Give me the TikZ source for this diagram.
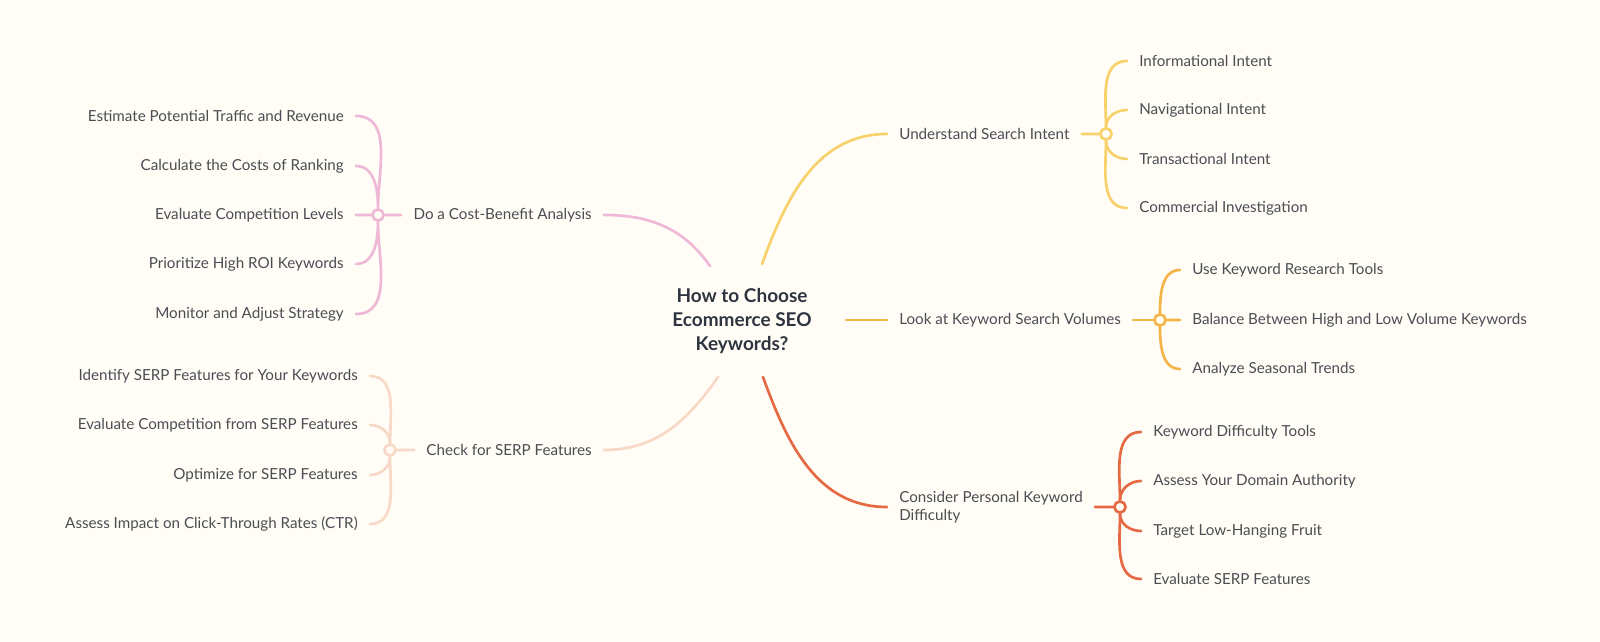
\documentclass[tikz,border=0pt]{standalone}
\usepackage{fontspec}
\setmainfont{Lato}
\usetikzlibrary{positioning}
\definecolor{bgc}{HTML}{FFFDF6}
\definecolor{ylw}{HTML}{F8D16A}
\definecolor{org}{HTML}{F5B447}
\definecolor{rdo}{HTML}{E56A43}
\definecolor{pnk}{HTML}{EEB8D6}
\definecolor{pch}{HTML}{F8D8C6}
\definecolor{txc}{HTML}{4A4D52}
\definecolor{ttc}{HTML}{2E3540}
\pgfdeclarelayer{back}
\pgfdeclarelayer{bg}
\pgfsetlayers{back,bg,main}
\tikzset{%
    lin/.style={line width=1.9pt, line cap=round},
    hub/.style={circle, draw, fill=bgc, line width=1.9pt, minimum size=0.28cm, inner sep=0pt},
    txt/.style={font=\fontsize{10.8}{13}\selectfont, text=txc, inner xsep=0.3cm, inner ysep=1pt},
    ttl/.style={font=\fontsize{13.5}{17}\selectfont\bfseries, text=ttc, align=center}
}
\begin{document}
\begin{tikzpicture}[x=0.025cm, y=-0.025cm]
    \begin{pgfonlayer}{back}
    \fill[bgc] (0,0) rectangle (1600,642);
    \end{pgfonlayer}
    \useasboundingbox (0,0) rectangle (1600,642);
    \node[ttl] (c) at (742,321) {How to Choose\\Ecommerce SEO\\Keywords?};
    \coordinate (cy) at (762,264);
    \coordinate (co) at (846,320);
    \coordinate (cr) at (763,377);
    \coordinate (cp) at (710,266);
    \coordinate (cs) at (718,377);
    % branches
    \node[txt, anchor=west] (b1) at (887,134) {Understand Search Intent};
    \node[txt, anchor=west] (b2) at (887,320) {Look at Keyword Search Volumes};
    \node[txt, anchor=west, align=left] (b3) at (887,507) {Consider Personal Keyword\\Difficulty};
    \node[txt, anchor=east] (b4) at (604,215) {Do a Cost-Benefit Analysis};
    \node[txt, anchor=east] (b5) at (604,450) {Check for SERP Features};
    \node[hub, draw=ylw] (h1) at (1106,134) {};
    \node[hub, draw=org] (h2) at (1160,320) {};
    \node[hub, draw=rdo] (h3) at (1120,507) {};
    \node[hub, draw=pnk] (h4) at (378,215) {};
    \node[hub, draw=pch] (h5) at (390,450) {};
    \begin{pgfonlayer}{bg}
    \draw[lin, ylw] (cy) to[out=70, in=180] (b1.west) (b1.east) -- (h1);
    \draw[lin, org] (co) -- (b2.west) (b2.east) -- (h2);
    \draw[lin, rdo] (cr) to[out=-70, in=180] (b3.west) (b3.east) -- (h3);
    \draw[lin, pnk] (cp) to[out=125, in=0] (b4.east) (b4.west) -- (h4);
    \draw[lin, pch] (cs) to[out=-125, in=0] (b5.east) (b5.west) -- (h5);
    % children right
    \foreach \t/\y [count=\i] in {Informational Intent/61, Navigational Intent/110, Transactional Intent/159, Commercial Investigation/208}{
        \node[txt, anchor=west] (u\i) at (1127,\y) {\t};
        \draw[lin, ylw] (h1) to[out=\ifdim\y pt<134pt 90\else -90\fi, in=180] (u\i.west);
    }
    \foreach \t/\y [count=\i] in {Use Keyword Research Tools/270, Balance Between High and Low Volume Keywords/320, Analyze Seasonal Trends/369}{
        \node[txt, anchor=west] (v\i) at (1180,\y) {\t};
    }
    \draw[lin, org] (h2) to[out=90, in=180] (v1.west) (h2) -- (v2.west) (h2) to[out=-90, in=180] (v3.west);
    \foreach \t/\y [count=\i] in {Keyword Difficulty Tools/432, Assess Your Domain Authority/481, Target Low-Hanging Fruit/531, Evaluate SERP Features/579}{
        \node[txt, anchor=west] (w\i) at (1141,\y) {\t};
        \draw[lin, rdo] (h3) to[out=\ifdim\y pt<507pt 90\else -90\fi, in=180] (w\i.west);
    }
    % children left
    \foreach \t/\y [count=\i] in {Estimate Potential Traffic and Revenue/116, Calculate the Costs of Ranking/166, Evaluate Competition Levels/215, Prioritize High ROI Keywords/264, Monitor and Adjust Strategy/314}{
        \node[txt, anchor=east] (p\i) at (356,\y) {\t};
    }
    \draw[lin, pnk] (h4) to[out=90, in=0] (p1.east) (h4) to[out=90, in=0] (p2.east) (h4) -- (p3.east)
        (h4) to[out=-90, in=0] (p4.east) (h4) to[out=-90, in=0] (p5.east);
    \foreach \t/\y [count=\i] in {Identify SERP Features for Your Keywords/376, Evaluate Competition from SERP Features/425, Optimize for SERP Features/475, Assess Impact on Click-Through Rates (CTR)/524}{
        \node[txt, anchor=east] (s\i) at (370,\y) {\t};
        \draw[lin, pch] (h5) to[out=\ifdim\y pt<450pt 90\else -90\fi, in=0] (s\i.east);
    }
    \end{pgfonlayer}
\end{tikzpicture}
\end{document}
